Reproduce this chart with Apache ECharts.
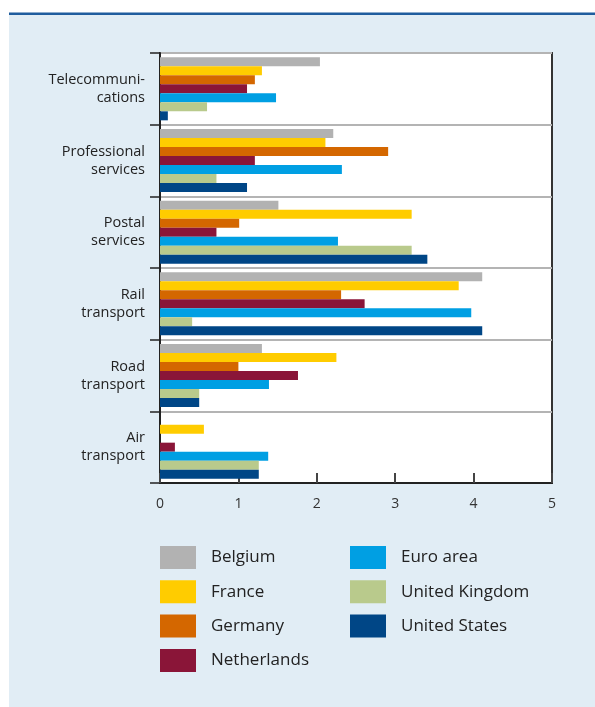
<!DOCTYPE html>
<html>
<head>
<meta charset="utf-8">
<script src="https://cdn.jsdelivr.net/npm/echarts@6/dist/echarts.min.js"></script>
<style>
  html, body { margin: 0; padding: 0; background: #fff; }
  #chart { width: 595px; height: 707px; }
</style>
</head>
<body>
<div id="chart"></div>
<script>
// sectors, top to bottom
const sectors = ['Telecommuni-\ncations', 'Professional\nservices', 'Postal\nservices', 'Rail\ntransport', 'Road\ntransport', 'Air\ntransport'];

const belgium     = [2.04, 2.21, 1.51, 4.11, 1.30, null];
const france      = [1.30, 2.11, 3.21, 3.81, 2.25, 0.56];
const germany     = [1.21, 2.91, 1.01, 2.31, 1.00, null];
const netherlands = [1.11, 1.21, 0.72, 2.61, 1.76, 0.19];
const euroArea    = [1.48, 2.32, 2.27, 3.97, 1.39, 1.38];
const uk          = [0.60, 0.72, 3.21, 0.41, 0.50, 1.26];
const us          = [0.10, 1.11, 3.41, 4.11, 0.50, 1.26];

const xTicks = [0, 1, 2, 3, 4, 5];

const seriesDefs = [
  ['Belgium', belgium, '#B2B2B2'],
  ['France', france, '#FFCC00'],
  ['Germany', germany, '#D46700'],
  ['Netherlands', netherlands, '#8A1538'],
  ['Euro area', euroArea, '#009FE3'],
  ['United Kingdom', uk, '#B9CA8C'],
  ['United States', us, '#004686']
];

const font = '"Open Sans", "Noto Sans", sans-serif';
const chart = echarts.init(document.getElementById('chart'));

const legendBase = {
  orient: 'vertical',
  top: 546,
  padding: 0,
  itemWidth: 36,
  itemHeight: 23,
  itemGap: 11.3,
  icon: 'rect',
  selectedMode: false,
  textStyle: { fontFamily: font, fontSize: 17, color: '#222', padding: [0, 0, 0, 10] }
};

// each label line gets its own axis so both lines are right aligned
const labelStyle = { fontFamily: font, fontSize: 14.5, color: '#222', align: 'right', margin: 15, lineHeight: 18 };

const option = {
  backgroundColor: '#fff',
  animation: false,
  graphic: [
    { type: 'rect', z: -10, shape: { x: 9, y: 15, width: 586, height: 692 }, style: { fill: '#E1EDF5' } },
    { type: 'rect', z: -9, shape: { x: 9, y: 12.5, width: 586, height: 2.5 }, style: { fill: '#1F5D9E' } }
  ],
  grid: {
    left: 160, right: 43, top: 53, bottom: 224,
    show: true, backgroundColor: '#fff', borderColor: '#333', borderWidth: 2
  },
  legend: [
    Object.assign({}, legendBase, { left: 160, data: ['Belgium', 'France', 'Germany', 'Netherlands'] }),
    Object.assign({}, legendBase, { left: 350, data: ['Euro area', 'United Kingdom', 'United States'] })
  ],
  xAxis: {
    type: 'value',
    min: xTicks[0],
    max: xTicks[xTicks.length - 1],
    interval: 1,
    axisLine: { show: true, lineStyle: { color: '#222', width: 2 } },
    axisTick: { show: true, inside: true, length: 10, lineStyle: { color: '#444', width: 2 } },
    splitLine: { show: false },
    axisLabel: { fontFamily: font, fontSize: 14, color: '#333', margin: 14 }
  },
  yAxis: [
    {
      type: 'category',
      data: sectors,
      inverse: true,
      position: 'left',
      axisLine: { show: true, lineStyle: { color: '#222', width: 2 } },
      axisTick: { show: true, length: 10, lineStyle: { color: '#222', width: 1.5 } },
      splitLine: { show: true, lineStyle: { color: '#B4B4B4', width: 2 } },
      axisLabel: Object.assign({}, labelStyle, {
        verticalAlign: 'bottom',
        formatter: (v) => v.split('\n')[0]
      })
    },
    {
      type: 'category',
      data: sectors,
      inverse: true,
      position: 'left',
      offset: 0,
      axisLine: { show: false },
      axisTick: { show: false },
      splitLine: { show: false },
      axisLabel: Object.assign({}, labelStyle, {
        verticalAlign: 'top',
        formatter: (v) => v.split('\n')[1]
      })
    }
  ],
  series: seriesDefs.map(([name, data, color]) => ({
    name: name,
    type: 'bar',
    data: data,
    barWidth: 9,
    barGap: '0%',
    itemStyle: { color: color }
  }))
};

chart.setOption(option);
</script>
</body>
</html>
